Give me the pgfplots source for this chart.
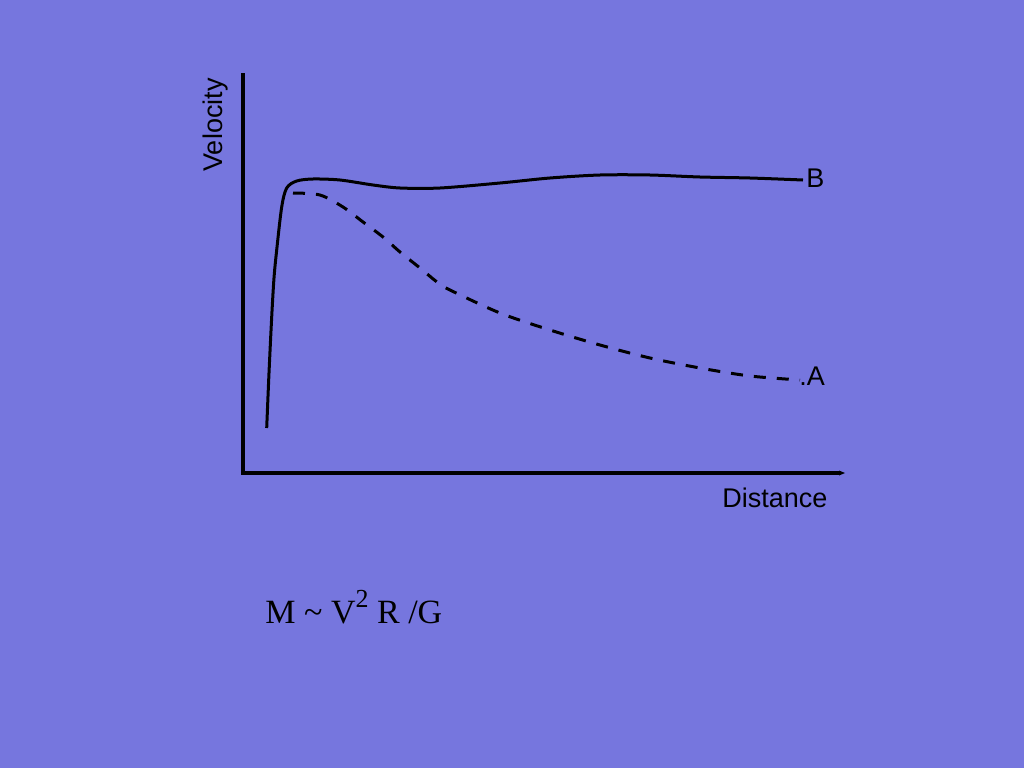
\documentclass[border=0pt]{standalone}
\usepackage{fontspec}
\setmainfont{Liberation Sans}
\newfontfamily\seriffont{Liberation Serif}
\usepackage{pgfplots}
\pgfplotsset{compat=1.18}
\definecolor{bg}{RGB}{118,118,222}
\begin{document}
\begin{tikzpicture}
\fill[bg] (0,0) rectangle (512pt,384pt);
\useasboundingbox (0,0) rectangle (512pt,384pt);
\begin{axis}[
    at={(121.5pt,147.5pt)}, anchor=south west,
    scale only axis, width=300pt, height=200pt,
    xmin=0, xmax=600, ymin=0, ymax=400,
    axis line style={draw=none},
    ticks=none,
    clip=false,
    font=\fontsize{13.5}{16}\selectfont,
]
% axes drawn by hand so the corner joins cleanly
\draw[line width=2pt, line join=miter] (axis cs:0,400) -- (axis cs:0,0) -- (axis cs:598,0);
\fill (axis cs:596,2.5) -- (axis cs:602,0) -- (axis cs:596,-2.5) -- cycle;

% curve B (solid)
\addplot[smooth, line width=1.5pt, black] coordinates {
    (23.7,45) (26,100) (28.7,156) (31,195) (33.7,223) (38.7,266) (43.7,285)
    (53.7,292) (70,294) (97,293) (130,288) (157,285) (197,285)
    (257,290) (307,295) (357,298) (407,298) (457,296) (507,295) (560,293)
};
% curve A (dashed)
\addplot[smooth, line width=1.5pt, black, dash pattern=on 6pt off 5.5pt] coordinates {
    (50,280) (77,278) (100,266) (120,251) (140,236) (157,221) (177,205)
    (194,191) (207,183) (257,160) (307,143) (357,128) (407,115)
    (457,105) (507,97) (557,93)
};

\node[anchor=base west, inner sep=0pt] at (axis cs:563,286) {B};
\node[anchor=base west, inner sep=0pt] at (axis cs:556,88) {.A};
\node[anchor=base, inner sep=0pt] at (axis cs:532,-34) {Distance};
\node[anchor=base, rotate=90, inner sep=0pt] at (axis cs:-21,348) {Velocity};
\end{axis}
\node[anchor=base west, inner sep=0pt, font=\seriffont\fontsize{17}{20}\selectfont]
    at (132.5pt,72.5pt) {M \textasciitilde{} V\raisebox{0.45em}{\fontsize{13}{15}\selectfont 2} R /G};
\end{tikzpicture}
\end{document}
